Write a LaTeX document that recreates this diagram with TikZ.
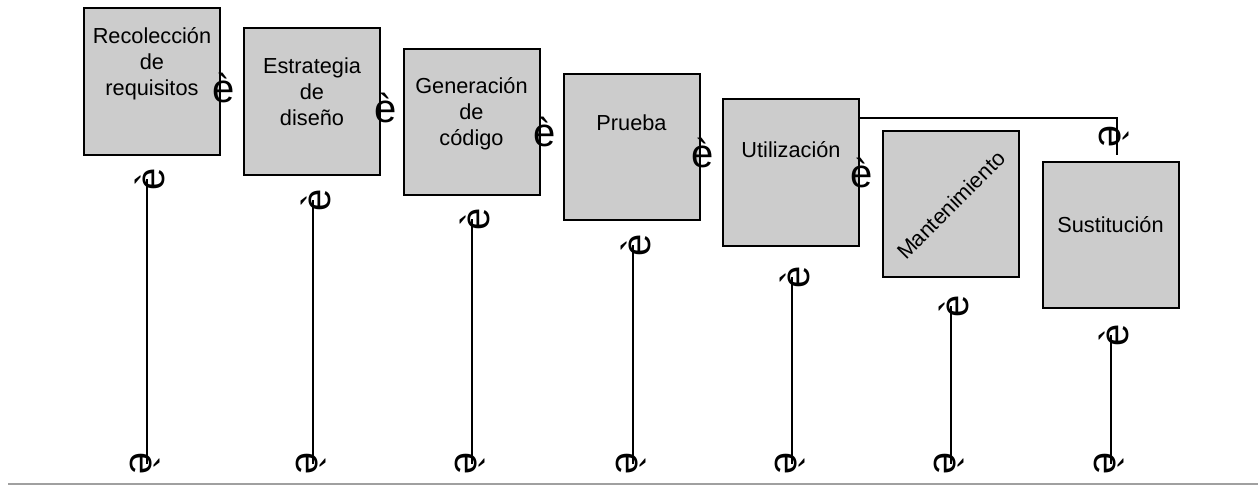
\documentclass[tikz,border=0pt]{standalone}
\usepackage{fontspec}
\setmainfont{Liberation Sans}
\usepackage{tikz}
\usetikzlibrary{positioning}
\definecolor{boxgray}{RGB}{204,204,204}
\definecolor{rulegray}{RGB}{160,160,160}

\begin{document}
\begin{tikzpicture}[
      x=0.75pt, y=-0.75pt,
      mybox/.style={
         rectangle,
         draw=black,
         fill=boxgray,
         line width=1.5pt,
         minimum width=102pt,
         minimum height=110pt,
         inner sep=0pt},
      mytext/.style={
         anchor=north,
         align=center,
         inner sep=0pt,
         font=\fontsize{16.3}{19.5}\selectfont},
      myglyph/.style={
         inner sep=0pt,
         font=\fontsize{30}{30}\selectfont},
      myline/.style={line width=1.5pt}
      ]
      \useasboundingbox (0,0) rectangle (1258,486);

      \node[mybox] (1) at (152,81.5) {};
      \node[mybox] (2) at (312,101.5) {};
      \node[mybox] (3) at (471.5,122) {};
      \node[mybox] (4) at (631.5,147) {};
      \node[mybox] (5) at (791,172.5) {};
      \node[mybox] (6) at (950.5,204) {};
      \node[mybox] (7) at (1110.5,235) {};

      \node[mytext] (t1) at (152,27) {Recolección\\de\\requisitos};
      \node[mytext] (t2) at (312,57) {Estrategia\\de\\diseño};
      \node[mytext] (t3) at (471.5,77) {Generación\\de\\código};
      \node[mytext] (t4) at (631.5,114) {Prueba};
      \node[mytext] (t5) at (791,141) {Utilización};
      \node[mytext,anchor=center,rotate=45] (t6) at (951,205) {Mantenimiento};
      \node[mytext] (t7) at (1110.5,216) {Sustitución};

      % glyphs on the right edges
      \foreach \i/\x/\y in {1/224/88, 2/386/108, 3/545/132, 4/703/153, 5/862/173}
         \node[myglyph] (e\i) at (\x,\y) {è};

      % vertical lines: line x/top glyph y
      \foreach \i/\x/\y in {1/147/179, 2/313/200, 3/472/219, 4/633/245,
                            5/792/277, 6/951/306, 7/1111/335} {
         \node[myglyph,rotate=90] (u\i) at (\x+3,\y) {è};
         \node[myglyph,rotate=-90] (d\i) at (\x-2,464) {è};
         \draw[myline] ([xshift=-2.25pt]u\i.center) -- ([xshift=-2.25pt]u\i.center |- d\i.center);
      }

      \node[myglyph,rotate=-90] (s) at (1114,137) {è};
      \coordinate (k) at (1117,118);
      \draw[myline] (5.east |- k) -- (k) -- ([yshift=4.5pt]7.north -| k);

      \draw[rulegray,line width=1.1pt] (8,484) -- (1258,484);
    \end{tikzpicture}
\end{document}
